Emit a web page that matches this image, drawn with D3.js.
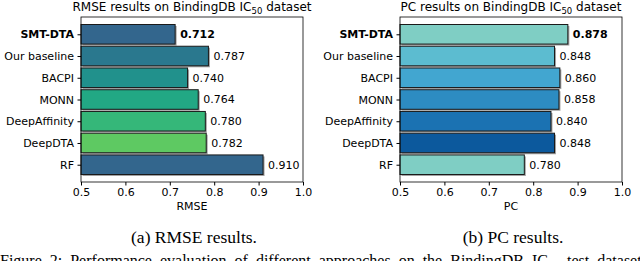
<!DOCTYPE html>
<html>
<head>
<meta charset="utf-8">
<script src="https://cdn.jsdelivr.net/npm/d3@7"></script>
<style>
  body { margin: 0; background: #fff; }
  svg { display: block; font-family: "DejaVu Sans", sans-serif; }
</style>
</head>
<body>
<svg id="chart" width="640" height="261"></svg>
<script>
// data
const methods = ["SMT-DTA", "Our baseline", "BACPI", "MONN", "DeepAffinity", "DeepDTA", "RF"];
const rmseValues = [0.712, 0.787, 0.740, 0.764, 0.780, 0.782, 0.910];
const pcValues = [0.878, 0.848, 0.860, 0.858, 0.840, 0.848, 0.780];
const xTicks = [0.5, 0.6, 0.7, 0.8, 0.9, 1.0];
const rmseColors = ["#33668d", "#2a788e", "#21918c", "#22a884", "#35b779", "#5ec962", "#33668d"];
const pcColors = ["#7fcec4", "#5cbcd0", "#42a6d0", "#2d8cc2", "#1b72b2", "#0c599d", "#7fcec4"];

const svg = d3.select("#chart");
svg.append("rect").attr("width", 640).attr("height", 261).attr("fill", "#fff");

function drawPanel(opt) {
  const x = d3.scaleLinear().domain([0.5, 1.0]).range([opt.left, opt.right]);
  const n = methods.length, h = 0.9, pad = 0.05 * (n - 1 + h);
  const y = d3.scaleLinear().domain([-h / 2 - pad, n - 1 + h / 2 + pad]).range([opt.top, opt.bottom]);
  const g = svg.append("g");

  // bars with soft shadow and dark edge
  methods.forEach((m, i) => {
    const y0 = y(i - h / 2), bh = y(i + h / 2) - y0, bw = x(opt.values[i]) - x(0.5);
    g.append("rect")
      .attr("x", x(0.5) + 1.5).attr("y", y0 + 1.5)
      .attr("width", bw).attr("height", bh)
      .attr("fill", "#555").attr("opacity", 0.55);
    g.append("rect")
      .attr("x", x(0.5)).attr("y", y0)
      .attr("width", bw).attr("height", bh)
      .attr("fill", opt.colors[i])
      .attr("stroke", "#1a1a1a").attr("stroke-width", 1);
    g.append("text")
      .attr("x", x(opt.values[i]) + 5)
      .attr("y", y(i)).attr("dy", "0.35em")
      .attr("font-size", 11)
      .attr("font-weight", i === 0 ? "bold" : "normal")
      .text(opt.values[i].toFixed(3));
  });

  // frame
  g.append("rect")
    .attr("x", opt.left).attr("y", opt.top)
    .attr("width", opt.right - opt.left).attr("height", opt.bottom - opt.top)
    .attr("fill", "none").attr("stroke", "#000").attr("stroke-width", 0.8);

  const xa = g.append("g")
    .attr("transform", `translate(0,${opt.bottom})`)
    .call(d3.axisBottom(x).tickValues(xTicks).tickSize(3.5).tickPadding(3).tickFormat(d3.format(".1f")));
  xa.select(".domain").remove();
  xa.selectAll("text").attr("font-size", 11).attr("font-family", "DejaVu Sans").attr("fill", "#000");

  const ya = g.append("g")
    .attr("transform", `translate(${opt.left},0)`)
    .call(d3.axisLeft(y).tickValues(d3.range(n)).tickSize(3.5).tickPadding(3.5).tickFormat(i => methods[i]));
  ya.select(".domain").remove();
  ya.selectAll("text")
    .attr("font-size", 11).attr("font-family", "DejaVu Sans").attr("fill", "#000")
    .attr("font-weight", i => i === 0 ? "bold" : "normal");

  // axis label
  g.append("text")
    .attr("x", (opt.left + opt.right) / 2).attr("y", 210)
    .attr("text-anchor", "middle").attr("font-size", 11)
    .text(opt.xlabel);

  // title with subscript
  const t = g.append("text")
    .attr("x", (opt.left + opt.right) / 2).attr("y", 11)
    .attr("text-anchor", "middle").attr("font-size", 12);
  t.append("tspan").text(opt.metric + " results on BindingDB IC");
  t.append("tspan").attr("font-size", 8.5).attr("dy", 2.5).text("50");
  t.append("tspan").attr("dy", -2.5).text(" dataset");

  // subfigure caption
  svg.append("text")
    .attr("x", (opt.left + opt.right) / 2 + 2).attr("y", 243)
    .attr("text-anchor", "middle")
    .attr("font-family", "Liberation Serif, serif").attr("font-size", 17.5)
    .text(opt.caption);
}

drawPanel({ left: 81, right: 303, top: 17, bottom: 182, values: rmseValues, colors: rmseColors,
  metric: "RMSE", xlabel: "RMSE", caption: "(a) RMSE results." });
drawPanel({ left: 400, right: 622, top: 17, bottom: 182, values: pcValues, colors: pcColors,
  metric: "PC", xlabel: "PC", caption: "(b) PC results." });

// figure caption, cut off at the bottom edge as in the reference
const fc = svg.append("text")
  .attr("x", 0).attr("y", 266)
  .attr("font-family", "Liberation Serif, serif").attr("font-size", 16)
  .attr("word-spacing", 4);
fc.append("tspan").text("Figure 2: Performance evaluation of different approaches on the BindingDB IC");
fc.append("tspan").attr("font-size", 11).attr("dy", 2).text("50");
fc.append("tspan").attr("dy", -2).text(" test dataset.");
</script>
</body>
</html>
